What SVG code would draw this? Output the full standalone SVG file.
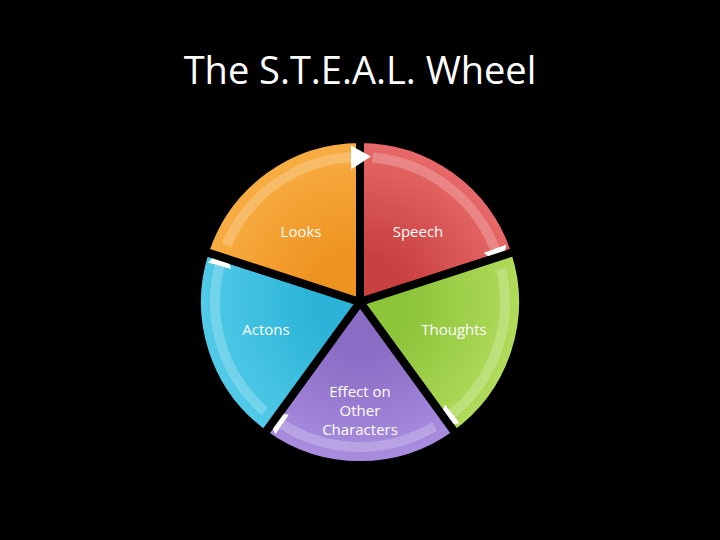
<svg xmlns="http://www.w3.org/2000/svg" width="720" height="540" viewBox="0 0 720 540">
<style>
.sec{stroke:#000;stroke-width:8;stroke-linejoin:miter}
.band{fill:none;stroke:#fff;stroke-opacity:0.22;stroke-width:10}
.lbl{fill:#fff;font-family:"Open Sans","Liberation Sans",sans-serif;font-size:15px;text-anchor:middle}
</style>
<defs>
<marker id="ah" markerUnits="userSpaceOnUse" markerWidth="20" markerHeight="24" refX="4" refY="12" orient="auto" viewBox="0 0 20 24">
<path d="M0,0 L20,12 L0,24 Z" fill="context-stroke"/>
</marker>
<radialGradient id="gR" cx="360" cy="302" r="163" gradientUnits="userSpaceOnUse"><stop offset="0.3" stop-color="#c94040"/><stop offset="1" stop-color="#e86a6a"/></radialGradient>
<radialGradient id="gG" cx="360" cy="302" r="163" gradientUnits="userSpaceOnUse"><stop offset="0.3" stop-color="#8cc43a"/><stop offset="1" stop-color="#b2dc5c"/></radialGradient>
<radialGradient id="gP" cx="360" cy="302" r="163" gradientUnits="userSpaceOnUse"><stop offset="0.3" stop-color="#8a6cc4"/><stop offset="1" stop-color="#a98ee0"/></radialGradient>
<radialGradient id="gB" cx="360" cy="302" r="163" gradientUnits="userSpaceOnUse"><stop offset="0.3" stop-color="#2cb4d8"/><stop offset="1" stop-color="#52cbe8"/></radialGradient>
<radialGradient id="gO" cx="360" cy="302" r="163" gradientUnits="userSpaceOnUse"><stop offset="0.3" stop-color="#ee9320"/><stop offset="1" stop-color="#f8ae44"/></radialGradient>
</defs>
<rect width="720" height="540" fill="#000"/>
<text x="360" y="84" fill="#fff" font-family="Open Sans,Liberation Sans,sans-serif" font-size="38" text-anchor="middle">The S.T.E.A.L. Wheel</text>
<g id="speech">
<path class="sec" fill="url(#gR)" d="M360,302 L360,139 A163,163 0 0 1 515,251.6 Z"/>
<path class="band" stroke="#f08080" marker-end="url(#ah)" d="M372.6,157.6 A145,145 0 0 1 496.3,252.4"/>
<text class="lbl" x="418" y="237">Speech</text>
</g>
<g id="thoughts">
<path class="sec" fill="url(#gG)" d="M360,302 L515,251.6 A163,163 0 0 1 455.8,433.9 Z"/>
<path class="band" stroke="#c0e870" marker-end="url(#ah)" d="M501.3,269.4 A145,145 0 0 1 449.3,416.3"/>
<text class="lbl" x="454" y="335">Thoughts</text>
</g>
<g id="effect">
<path class="sec" fill="url(#gP)" d="M360,302 L455.8,433.9 A163,163 0 0 1 264.2,433.9 Z"/>
<path class="band" stroke="#b8a0ea" marker-end="url(#ah)" d="M434.7,426.3 A145,145 0 0 1 278.9,422.2"/>
<text class="lbl" x="360" y="397">Effect on</text>
<text class="lbl" x="360" y="416">Other</text>
<text class="lbl" x="360" y="435">Characters</text>
</g>
<g id="actons">
<path class="sec" fill="url(#gB)" d="M360,302 L264.2,433.9 A163,163 0 0 1 205,251.6 Z"/>
<path class="band" stroke="#70d8f0" marker-end="url(#ah)" d="M264.9,411.5 A145,145 0 0 1 220.6,262"/>
<text class="lbl" x="266" y="335">Actons</text>
</g>
<g id="looks">
<path class="sec" fill="url(#gO)" d="M360,302 L205,251.6 A163,163 0 0 1 360,139 Z"/>
<path class="band" stroke="#fcc060" marker-end="url(#ah)" d="M226.5,245.3 A145,145 0 0 1 354.9,157.1"/>
<text class="lbl" x="301" y="237">Looks</text>
</g>
<g id="connectors"/>
</svg>
